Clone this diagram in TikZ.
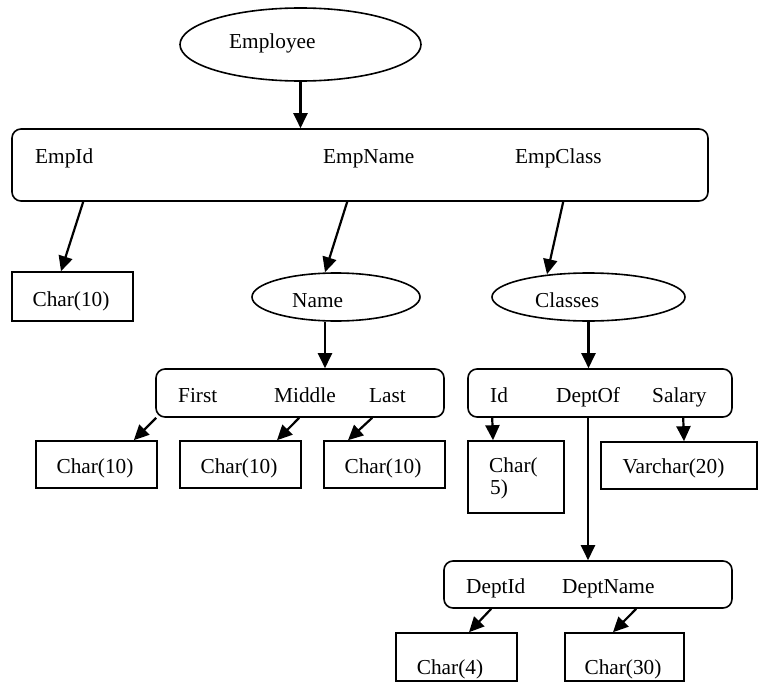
\documentclass[tikz,border=0pt]{standalone}
\usepackage{fontspec}
\setmainfont{Liberation Serif}
\usetikzlibrary{arrows.meta,shapes.geometric}
\begin{document}
\begin{tikzpicture}[x=1pt,y=-1pt,
  every node/.style={font=\fontsize{21.3}{24}\selectfont},
  boxr/.style={draw,line width=1.6pt,inner sep=0pt,rectangle},
  recbox/.style={boxr,rounded corners=9pt},
  ell/.style={draw,line width=1.6pt,ellipse,inner sep=0pt},
  lbl/.style={anchor=base west,inner sep=0pt},
  typ/.style={anchor=base,inner sep=0pt},
  arr/.style={line width=2.2pt,-{Triangle[length=15pt,width=14pt]}}]
\useasboundingbox (0,0) rectangle (759,682);

% Employee
\node[ell,minimum width=241pt,minimum height=73pt] (emp) at (300.5,44.5) {};
\node[lbl] (empT) at (229,49) {Employee};

% main record
\node[recbox,minimum width=696pt,minimum height=72pt] (big) at (360,165) {};
\node[lbl] (lEmpId) at (35,163) {EmpId};
\node[lbl] (lEmpName) at (323,163) {EmpName};
\node[lbl] (lEmpClass) at (515,163) {EmpClass};

% level 2
\node[boxr,minimum width=121pt,minimum height=49pt] (c1) at (72.5,296.5) {};
\node[typ] (c1T) at (71,306) {Char(10)};
\node[ell,minimum width=168pt,minimum height=48pt] (nameE) at (336,297) {};
\node[lbl] (nameT) at (292,307) {Name};
\node[ell,minimum width=193pt,minimum height=48pt] (clsE) at (588.5,297) {};
\node[lbl] (clsT) at (535,307) {Classes};

% Name record
\node[recbox,minimum width=288pt,minimum height=48pt] (namerec) at (300,393) {};
\node[lbl] (lFirst) at (178,402) {First};
\node[lbl] (lMiddle) at (274,402) {Middle};
\node[lbl] (lLast) at (369,402) {Last};

% Classes record
\node[recbox,minimum width=264pt,minimum height=48pt] (clsrec) at (600,393) {};
\node[lbl] (lId) at (490,402) {Id};
\node[lbl] (lDeptOf) at (556,402) {DeptOf};
\node[lbl] (lSalary) at (652,402) {Salary};

% type boxes row
\node[boxr,minimum width=121pt,minimum height=47pt] (f1) at (96.5,464.5) {};
\node[typ] (f1T) at (95,473) {Char(10)};
\node[boxr,minimum width=121pt,minimum height=47pt] (f2) at (240.5,464.5) {};
\node[typ] (f2T) at (239,473) {Char(10)};
\node[boxr,minimum width=121pt,minimum height=47pt] (f3) at (384.5,464.5) {};
\node[typ] (f3T) at (383,473) {Char(10)};
\node[boxr,minimum width=96pt,minimum height=72pt] (idbox) at (516,477) {};
\node[lbl] (idT1) at (489,472) {Char(};
\node[lbl] (idT2) at (490,494) {5)};
\node[boxr,minimum width=156pt,minimum height=47pt] (varchar) at (679,465.5) {};
\node[typ] (varT) at (673.5,473) {Varchar(20)};

% Dept record
\node[recbox,minimum width=288pt,minimum height=47pt] (deptrec) at (588,584.5) {};
\node[lbl] (lDeptId) at (466,593) {DeptId};
\node[lbl] (lDeptName) at (562,593) {DeptName};
\node[boxr,minimum width=121pt,minimum height=48pt] (char4) at (456.5,657) {};
\node[typ] (char4T) at (450,674) {Char(4)};
\node[boxr,minimum width=119pt,minimum height=48pt] (char30) at (624.5,657) {};
\node[typ] (char30T) at (623,674) {Char(30)};

% connectors
\draw[arr] (emp.south) -- (emp.south |- big.north);
\draw[arr] ([xshift=72pt]big.south west) -- ([xshift=-11.5pt]c1.north);
\draw[arr] ([xshift=336pt]big.south west) -- ([xshift=-11pt]nameE.north);
\draw[arr] ([xshift=552pt]big.south west) -- ([xshift=-41.5pt,yshift=-2pt]clsE.north);
\draw[arr] ([xshift=-11pt]nameE.south) -- ([xshift=25pt]namerec.north);
\draw[arr] (clsE.south) -- (clsE.south |- clsrec.north);
\draw[arr] ([xshift=1pt]namerec.south west) -- ([xshift=-24pt]f1.north east);
\draw[arr] ([xshift=144pt]namerec.south west) -- ([xshift=36.5pt]f2.north);
\draw[arr] ([xshift=217pt]namerec.south west) -- ([xshift=-36.5pt]f3.north);
\draw[arr] ([xshift=25pt]clsrec.south west) -- ([xshift=-23pt]idbox.north);
\draw[arr] (deptrec.north |- clsrec.south) -- (deptrec.north);
\draw[arr] ([xshift=216pt]clsrec.south west) -- ([xshift=5pt]varchar.north);
\draw[arr] ([xshift=48pt]deptrec.south west) -- ([xshift=12.5pt]char4.north);
\draw[arr] ([xshift=193pt]deptrec.south west) -- ([xshift=-11.5pt]char30.north);
\end{tikzpicture}
\end{document}
